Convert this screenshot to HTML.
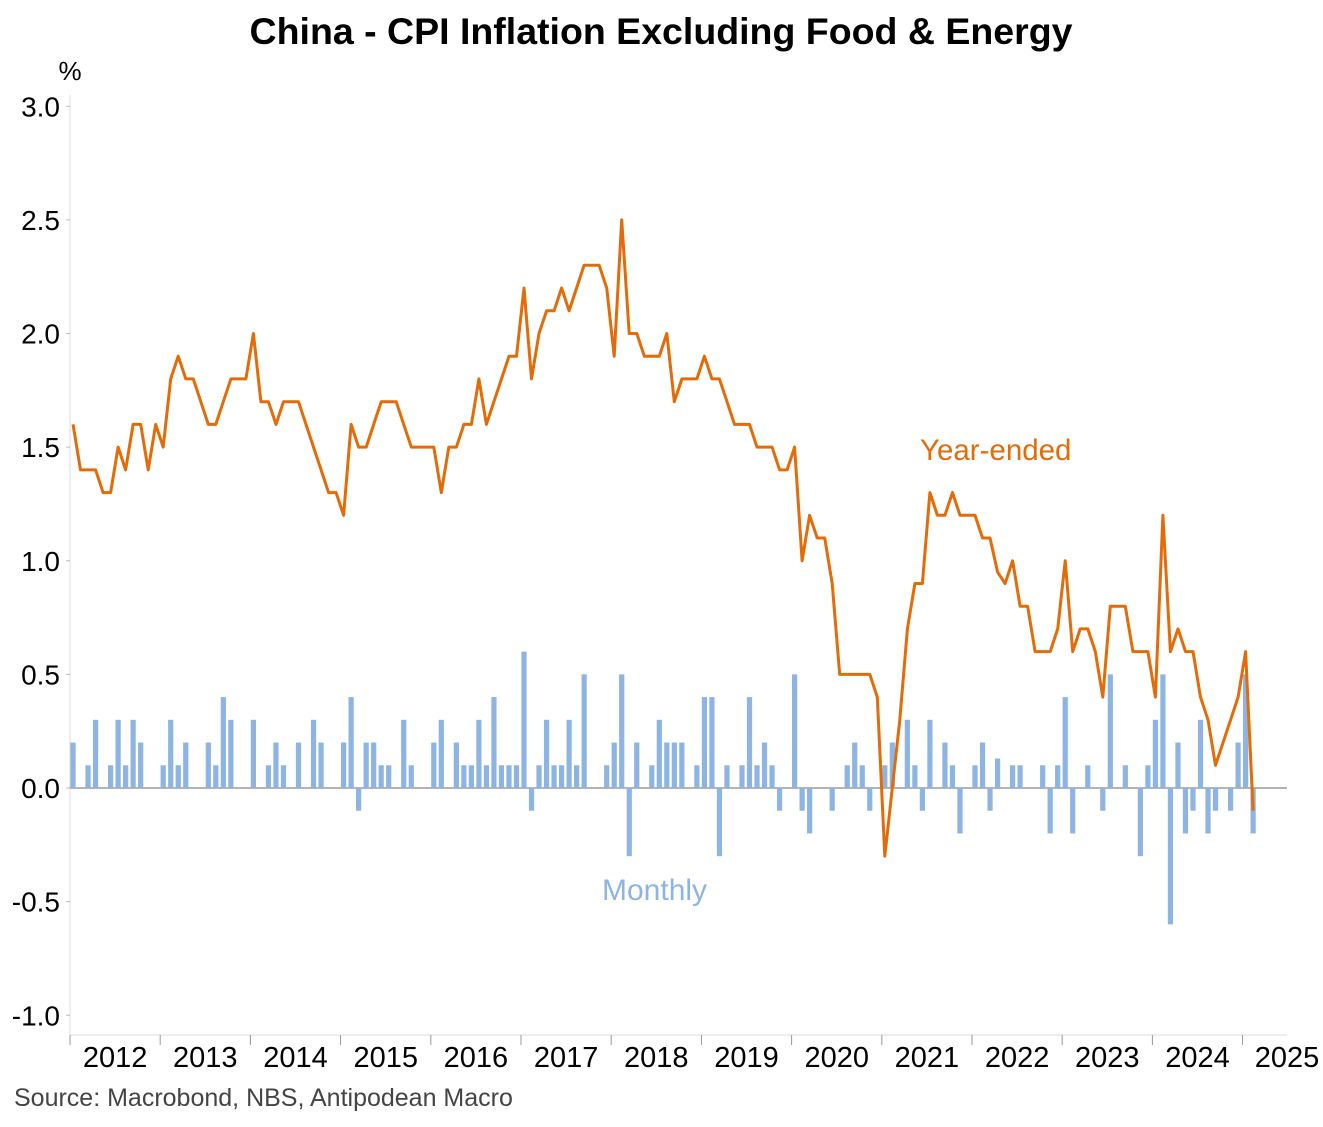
<!DOCTYPE html>
<html><head><meta charset="utf-8"><style>
body{margin:0;background:#fff;font-family:"Liberation Sans",Arial,sans-serif}
</style></head><body>
<svg id="chart" width="1323" height="1122" xmlns="http://www.w3.org/2000/svg" font-family="Liberation Sans, Arial, sans-serif">
<text x="661" y="44" text-anchor="middle" font-size="37.5" font-weight="bold">China - CPI Inflation Excluding Food &amp; Energy</text>
<text x="70" y="80" text-anchor="middle" font-size="26">%</text>
<g id="axes"></g>
<g id="bars"></g>
<g id="line"></g>
<text x="920" y="460" font-size="29.5" fill="#e36c09">Year-ended</text>
<text x="602" y="900" font-size="30" fill="#8db4e2">Monthly</text>
<text x="14" y="1106" font-size="25" fill="#444">Source: Macrobond, NBS, Antipodean Macro</text>
</svg>
<script>
const yearLabels=["2012","2013","2014","2015","2016","2017","2018","2019","2020","2021","2022","2023","2024","2025"];
const yTicks=[3.0,2.5,2.0,1.5,1.0,0.5,0.0,-0.5,-1.0];
const yearEnded=[
1.6,1.4,1.4,1.4,1.3,1.3,1.5,1.4,1.6,1.6,1.4,1.6,
1.5,1.8,1.9,1.8,1.8,1.7,1.6,1.6,1.7,1.8,1.8,1.8,
2.0,1.7,1.7,1.6,1.7,1.7,1.7,1.6,1.5,1.4,1.3,1.3,
1.2,1.6,1.5,1.5,1.6,1.7,1.7,1.7,1.6,1.5,1.5,1.5,
1.5,1.3,1.5,1.5,1.6,1.6,1.8,1.6,1.7,1.8,1.9,1.9,
2.2,1.8,2.0,2.1,2.1,2.2,2.1,2.2,2.3,2.3,2.3,2.2,
1.9,2.5,2.0,2.0,1.9,1.9,1.9,2.0,1.7,1.8,1.8,1.8,
1.9,1.8,1.8,1.7,1.6,1.6,1.6,1.5,1.5,1.5,1.4,1.4,
1.5,1.0,1.2,1.1,1.1,0.9,0.5,0.5,0.5,0.5,0.5,0.4,
-0.3,0.0,0.3,0.7,0.9,0.9,1.3,1.2,1.2,1.3,1.2,1.2,
1.2,1.1,1.1,0.95,0.9,1.0,0.8,0.8,0.6,0.6,0.6,0.7,
1.0,0.6,0.7,0.7,0.6,0.4,0.8,0.8,0.8,0.6,0.6,0.6,
0.4,1.2,0.6,0.7,0.6,0.6,0.4,0.3,0.1,0.2,0.3,0.4,
0.6,-0.1];
const monthly=[
0.2,0,0.1,0.3,0,0.1,0.3,0.1,0.3,0.2,0,0,
0.1,0.3,0.1,0.2,0,0,0.2,0.1,0.4,0.3,0,0,
0.3,0,0.1,0.2,0.1,0,0.2,0,0.3,0.2,0,0,
0.2,0.4,-0.1,0.2,0.2,0.1,0.1,0,0.3,0.1,0,0,
0.2,0.3,0,0.2,0.1,0.1,0.3,0.1,0.4,0.1,0.1,0.1,
0.6,-0.1,0.1,0.3,0.1,0.1,0.3,0.1,0.5,0,0,0.1,
0.2,0.5,-0.3,0.2,0,0.1,0.3,0.2,0.2,0.2,0,0.1,
0.4,0.4,-0.3,0.1,0,0.1,0.4,0.1,0.2,0.1,-0.1,0,
0.5,-0.1,-0.2,0,0,-0.1,0,0.1,0.2,0.1,-0.1,0,
0.1,0.2,0,0.3,0.1,-0.1,0.3,0,0.2,0.1,-0.2,0,
0.1,0.2,-0.1,0.13,0,0.1,0.1,0,0,0.1,-0.2,0.1,
0.4,-0.2,0,0.1,0,-0.1,0.5,0,0.1,0,-0.3,0.1,
0.3,0.5,-0.6,0.2,-0.2,-0.1,0.3,-0.2,-0.1,0,-0.1,0.2,
0.5,-0.2];
const NS="http://www.w3.org/2000/svg";
const X0=70, YEARW=90.2, MW=YEARW/12;
const xScale=i=>X0+MW*(i+0.4);
const yScale=v=>788-v*227.25;
function mk(tag,attrs,parent){const e=document.createElementNS(NS,tag);for(const k in attrs)e.setAttribute(k,attrs[k]);parent.appendChild(e);return e;}
const axes=document.getElementById('axes');
let yl=mk('line',{x1:X0,x2:X0,y1:95,y2:1035,stroke:'#ddd','stroke-width':1},axes);


yTicks.forEach(v=>{
 const t=mk('text',{x:60,y:yScale(v)+10,'text-anchor':'end','font-size':28},axes);
 t.textContent=v.toFixed(1);
 
 
 const tk=mk('line',{x1:X0-4,x2:X0,y1:yScale(v),y2:yScale(v),stroke:'#bbb'},axes);
 
 
});
let xl=mk('line',{x1:X0,x2:1287,y1:1035,y2:1035,stroke:'#ddd'},axes);


yearLabels.forEach((y,i)=>{
 const x=X0+i*YEARW;
 const tk=mk('line',{x1:x,x2:x,y1:1035,y2:1045,stroke:'#999'},axes);
 
 
 const t=mk('text',{x:i<13?x+YEARW/2:1287,y:1067,'text-anchor':'middle','font-size':29},axes);
 t.textContent=y;
 
 
});
const bars=document.getElementById('bars');
monthly.forEach((v,i)=>{
 if(v===0)return;
 const y0=yScale(0),y1=yScale(v);
 const r=mk('rect',{x:xScale(i)-2.6,y:Math.min(y0,y1),width:5.2,height:Math.abs(y1-y0),fill:'#8db4e2'},bars);
 
 
});
let zl=mk('line',{x1:X0,x2:1287,y1:yScale(0),y2:yScale(0),stroke:'#888','stroke-width':1.2},axes);


const p=mk('polyline',{points:yearEnded.map((v,i)=>xScale(i).toFixed(1)+','+yScale(v).toFixed(1)).join(' '),fill:'none',stroke:'#e36c09','stroke-width':3,'stroke-linejoin':'round'},document.getElementById('line'));


</script>
</body></html>
